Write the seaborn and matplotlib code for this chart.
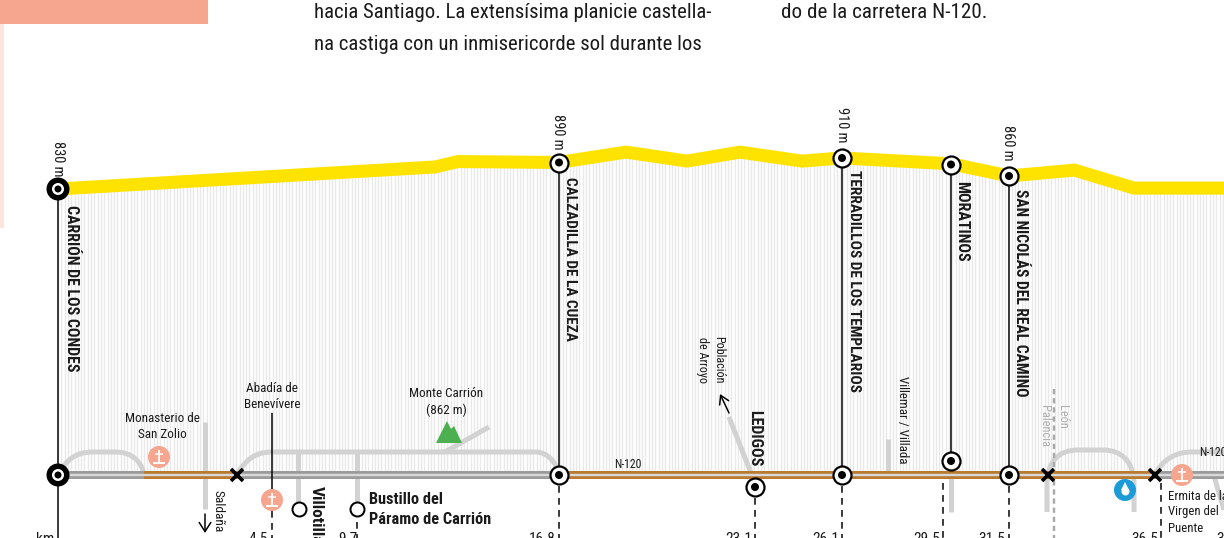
import numpy as np
import pandas as pd
import matplotlib
matplotlib.use("Agg")
import matplotlib.pyplot as plt
from matplotlib import font_manager as fm
from matplotlib.path import Path
from matplotlib.patches import PathPatch, Rectangle, Polygon
import seaborn as sns

# ---- data -------------------------------------------------------------
profile_km = [0, 12.57, 13.33, 16.7, 18.93, 20.97, 22.73, 24.8, 26.13, 29.77, 31.7, 33.88, 35.87, 38.87]
profile_elev = [830, 879, 891, 889, 912, 892, 912, 892, 899, 886, 859, 872, 832, 832]

station_names = ["CARRIÓN DE LOS CONDES", "CALZADILLA DE LA CUEZA", "TERRADILLOS DE LOS TEMPLARIOS",
                 "MORATINOS", "SAN NICOLÁS DEL REAL CAMINO"]
elev_labels = ["830 m", "890 m", "910 m", None, "860 m"]

km_label_names = ["4.5", "9.7", "16.8", "23.1", "26.1", "29.5", "31.5", "36.5", "3"]

# ---- theme ------------------------------------------------------------
sns.set_theme(style="white")
avail = {f.name for f in fm.fontManager.ttflist}
narrow = next((n for n in ["Roboto Condensed", "Open Sans Condensed", "Liberation Sans Narrow",
                           "Noto Sans", "Liberation Sans"] if n in avail), "DejaVu Sans")
plt.rcParams["font.family"] = [narrow, "DejaVu Sans"]

W, H = 1224, 538
fig = plt.figure(figsize=(W / 100, H / 100), dpi=100, facecolor="white")
PX = 0.72  # points per pixel

INK = "#1a1a1a"
LIGHT = "#d2d2d2"
SALMON = "#F6A58F"
BROWN = "#B87A2F"
YELLOW = "#FFE300"

# ---- profile axes: km / metres ------------------------------------------
axp = fig.add_axes([0, 0, 1, 1], zorder=1)
base = 830 + (189 - 475) / 0.45
poly = axp.fill_between(profile_km, profile_elev, base, color="none", lw=0)
hatch = axp.vlines(np.arange(0, 39, 0.11), base, 1000, color="#e9e9e9", lw=1.4 * PX, zorder=1)
hatch.set_clip_path(poly.get_paths()[0], axp.transData)
df = pd.DataFrame({"km": profile_km, "elev": profile_elev})
sns.lineplot(data=df, x="km", y="elev", ax=axp, color=YELLOW, lw=13 * PX, legend=False, zorder=2,
             solid_joinstyle="miter", solid_capstyle="butt", errorbar=None, sort=False)
axp.set_xlim(-58 / 30, (W - 58) / 30)
axp.set_ylim(830 + (189 - H) / 0.45, 830 + 189 / 0.45)
axp.axis("off")

# ---- schematic axes: layout in page units -------------------------------
ax = fig.add_axes([0, 0, 1, 1], zorder=2)
ax.set_xlim(0, W)
ax.set_ylim(H, 0)
ax.axis("off")
ax.patch.set_alpha(0)


def T(x, y, s, size=11.5, rot=0, ha="center", va="center", weight="normal", color=INK, **kw):
    ax.text(x, y, s, fontsize=size, rotation=rot, ha=ha, va=va, fontweight=weight, color=color,
            rotation_mode="default", linespacing=1.3, **kw)


def dot(x, y, d, color, z=6, ec="none", lw=0):
    ax.scatter([x], [y], s=(d * PX) ** 2, c=[color], edgecolors=ec, linewidths=lw * PX, zorder=z, clip_on=True)


def node(x, y):
    dot(x, y, 18, "white", ec="black", lw=2.2, z=7)
    dot(x, y, 8, "black", z=8)


def bignode(x, y):
    dot(x, y, 23, "black", z=7)
    dot(x, y, 12, "white", z=8)
    dot(x, y, 7, "black", z=9)


def light(xs, ys, lw=5, z=2, color=LIGHT):
    ax.plot(xs, ys, color=color, lw=lw * PX, solid_capstyle="butt", zorder=z)


def curve(verts, codes, lw=5):
    ax.add_patch(PathPatch(Path(verts, codes), fc="none", ec=LIGHT, lw=lw * PX, capstyle="butt", zorder=2))


def cross(x, y):
    dot(x, y, 22, SALMON, z=6)
    ax.plot([x, x], [y - 7, y + 5], color="white", lw=1.8 * PX, zorder=7, solid_capstyle="butt")
    ax.plot([x - 4, x + 4], [y - 3, y - 3], color="white", lw=1.5 * PX, zorder=7, solid_capstyle="butt")
    ax.plot([x - 6, x + 6], [y + 6, y + 6], color="white", lw=2 * PX, zorder=7, solid_capstyle="butt")


def xmark(x, y):
    ax.plot([x], [y], marker="x", ms=12.5 * PX, mew=3.6 * PX, color="black", zorder=8, ls="none")


# page header
ax.add_patch(Rectangle((0, 0), 208, 24, fc=SALMON, ec="none"))
ax.add_patch(Rectangle((0, 24), 3.5, 204, fc="#FDE5DE", ec="none"))
T(314, 12.5, "hacia Santiago. La extensísima planicie castella-", size=14.95, ha="left")
T(314, 44.5, "na castiga con un inmisericorde sol durante los", size=14.95, ha="left")
T(781, 12.5, "do de la carretera N-120.", size=15.2, ha="left")

# road
ROAD = 475
ax.plot([58, W], [ROAD, ROAD], color="#9b9b9b", lw=8 * PX, solid_capstyle="butt", zorder=3)
for a, b in [(144, 237), (559, 1155)]:
    ax.plot([a, b], [ROAD, ROAD], color=BROWN, lw=8 * PX, solid_capstyle="butt", zorder=3)
ax.plot([58, W], [ROAD, ROAD], color="#d9d9d9", lw=2.4 * PX, solid_capstyle="butt", zorder=4)

# side roads
C4 = Path.CURVE4
M, L = Path.MOVETO, Path.LINETO
curve([(58, 475), (66, 460), (76, 452), (92, 452), (116, 452), (132, 452), (142, 462), (144, 475)],
      [M, C4, C4, C4, L, C4, C4, C4])
curve([(237, 475), (245, 460), (255, 452), (272, 452), (535, 452), (548, 452), (556, 462), (559, 475)],
      [M, C4, C4, C4, L, C4, C4, C4])
curve([(1047, 512), (1047, 485), (1047, 462), (1058, 450), (1078, 450), (1103, 450), (1122, 450), (1134, 462),
       (1134, 485), (1134, 512)],
      [M, L, C4, C4, C4, L, C4, C4, C4, L])
curve([(1155, 475), (1162, 460), (1175, 452), (1192, 452), (1224, 452)], [M, C4, C4, C4, L])
light([1214, 1224], [476, 510])
light([205, 205], [422, 509])
light([298, 298], [452, 505])
light([357, 357], [452, 503])
light([445, 489], [452, 427])
light([729, 751], [417, 473])
light([888, 888], [439, 473])
light([951, 951], [477, 512])
ax.plot([1054, 1054], [389, H], color="#a8a8a8", lw=2.4 * PX, ls=(0, (2.2, 1.6)), zorder=2.5)

# mountain
ax.add_patch(Polygon([(436, 443), (447, 421), (451, 429), (454, 426), (462, 443)], fc="#4CAF50", ec="none", zorder=3))

# station lines
line = dict(color="black", lw=1.5 * PX, zorder=5, solid_capstyle="butt")
ax.plot([58, 58], [195, H], **line)
ax.plot([559, 559], [170, 470], **line)
ax.plot([842, 842], [166, 470], **line)
ax.plot([951, 951], [173, 455], **line)
ax.plot([1009, 1009], [184, 470], **line)
ax.plot([272, 272], [413, 490], **line)

dash = dict(color="black", lw=1.5 * PX, ls=(0, (4.5, 3.5)), zorder=5)
for x, y0 in [(272, 511), (357, 522), (559, 486), (755, 498), (842, 486), (943, 483), (1009, 486), (1161, 483)]:
    ax.plot([x, x], [y0, H], **dash)

# nodes
bignode(58, 189)
for x, y in [(559, 162.5), (842, 158), (951, 164.5), (1009, 176)]:
    node(x, y)
bignode(58, ROAD)
for x, y in [(559, ROAD), (842, ROAD), (1009, ROAD), (951, 461), (755, 487)]:
    node(x, y)
for x in [237, 1048, 1155]:
    xmark(x, ROAD)

dot(298.5, 509, 14, "white", ec="black", lw=2)
dot(357, 509, 14, "white", ec="black", lw=2)

cross(159, 457)
cross(272, 500)
cross(1182, 475)

dot(1125, 490, 22, "#1B9BD7", z=6)
ax.plot([1125], [491], marker="o", ms=8 * PX, color="white", zorder=7, ls="none", mew=0)
ax.plot([1125], [486], marker="^", ms=7.5 * PX, color="white", zorder=7, ls="none", mew=0)

# arrows
ax.annotate("", xy=(720, 394), xytext=(729, 413), zorder=6,
            arrowprops=dict(arrowstyle="->,head_width=0.3,head_length=0.5", lw=1.5 * PX, color="black", shrinkA=0, shrinkB=0))
ax.annotate("", xy=(205, 533), xytext=(205, 514), zorder=6,
            arrowprops=dict(arrowstyle="->,head_width=0.35,head_length=0.55", lw=1.5 * PX, color="black", shrinkA=0, shrinkB=0))

# station names
for name, x, y, sz in zip(station_names, [71, 570, 854, 962, 1020], [288, 259, 281, 221, 292.5],
                          [11.4, 11, 11.1, 11.4, 11.2]):
    T(x, y, name, size=sz, rot=270, weight="bold")
T(755, 438, "LEDIGOS", size=11.5, rot=270, weight="bold")
T(316, 515, "Villotilla", size=12.5, rot=270, weight="bold")
T(369, 500, "Bustillo del", size=11.7, ha="left", weight="bold")
T(369, 519, "Páramo de Carrión", size=11.7, ha="left", weight="bold")

for lab, x, y in zip(elev_labels, [58, 558.5, 841.5, 963, 1008.5], [159, 132, 124.5, 0, 143]):
    if lab:
        T(x, y, lab, size=10.4, rot=270)

T(162, 427, "Monasterio de\nSan Zolio", size=9.5)
T(272, 396, "Abadía de\nBenevívere", size=9.5)
T(446, 402, "Monte Carrión\n(862 m)", size=9.5)
T(711, 360, "Población\nde Arroyo", size=8.7, rot=270)
T(902, 420, "Villemar / Villada", size=9.3, rot=270)
T(218, 511, "Saldaña", size=9.6, rot=270)
T(628, 464, "N-120", size=8.5)
T(1213, 453, "N-120", size=8.5)
T(1063, 417, "León", size=8.9, rot=270, color="#b0b0b0")
T(1044, 426, "Palencia", size=8.9, rot=270, color="#b0b0b0")
T(1168, 512, "Ermita de la\nVirgen del\nPuente", size=9.2, ha="left")

# km readings, cut by the page edge
T(45, 539, "km", size=11)
for lab, x in zip(km_label_names, [268, 357, 556, 752, 839, 940, 1005, 1158, 1224]):
    T(x, 539, lab, size=11, ha="right")

fig.savefig("out.png", dpi=100, facecolor="white")
